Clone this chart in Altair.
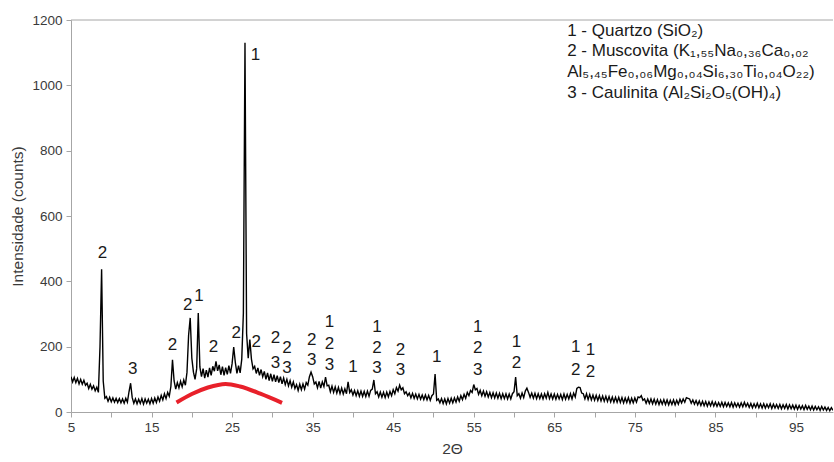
import altair as alt
import pandas as pd

# Diffractogram counts, sampled every 0.2 degrees of 2-theta starting at 5.0
counts = [
    108, 92, 106, 90, 103, 86, 100, 85, 97, 82,
    88, 72, 85, 70, 80, 65, 76, 60, 200, 437,
    95, 42, 47, 33, 45, 31, 43, 30, 42, 29,
    41, 28, 40, 27, 42, 30, 62, 88, 44, 27,
    40, 25, 39, 26, 41, 24, 40, 27, 39, 25,
    41, 27, 43, 29, 46, 33, 51, 37, 56, 41,
    60, 48, 78, 160, 95, 70, 90, 74, 94, 77,
    98, 82, 122, 235, 288, 165, 122, 100, 132, 303,
    138, 108, 133, 104, 128, 107, 135, 112, 140, 125,
    155, 126, 144, 114, 139, 112, 136, 115, 142, 118,
    148, 199, 152, 118, 142, 120, 162, 303, 1130, 240,
    165, 222, 162, 132, 140, 118, 135, 112, 130, 108,
    124, 100, 120, 96, 117, 94, 114, 92, 111, 90,
    108, 86, 104, 84, 100, 80, 96, 76, 92, 72,
    84, 66, 85, 68, 86, 70, 90, 82, 108, 122,
    108, 86, 92, 74, 94, 73, 92, 78, 107, 80,
    82, 62, 79, 60, 77, 58, 75, 56, 73, 55,
    71, 56, 92, 60, 68, 52, 66, 50, 65, 48,
    64, 48, 63, 47, 64, 48, 66, 70, 98, 56,
    62, 46, 61, 45, 60, 44, 61, 46, 63, 50,
    68, 56, 75, 64, 82, 68, 74, 56, 62, 50,
    58, 43, 57, 42, 55, 40, 54, 39, 52, 38,
    52, 37, 51, 36, 50, 55, 116, 36, 40, 28,
    41, 26, 40, 25, 41, 27, 42, 28, 43, 30,
    46, 33, 50, 38, 54, 42, 60, 50, 66, 60,
    84, 68, 72, 54, 66, 50, 64, 48, 62, 46,
    60, 44, 59, 43, 58, 42, 57, 41, 56, 41,
    56, 40, 55, 40, 56, 62, 107, 50, 56, 42,
    58, 44, 64, 73, 60, 45, 58, 42, 57, 41,
    56, 41, 55, 40, 56, 42, 60, 41, 55, 40,
    55, 39, 54, 40, 54, 38, 55, 39, 54, 40,
    56, 40, 58, 46, 72, 76, 75, 58, 56, 40,
    56, 38, 54, 37, 52, 36, 51, 35, 50, 34,
    49, 33, 48, 32, 47, 31, 46, 30, 45, 30,
    45, 29, 44, 28, 43, 29, 44, 27, 42, 28,
    43, 30, 46, 44, 50, 36, 40, 27, 40, 26,
    40, 25, 39, 24, 38, 23, 37, 24, 38, 23,
    37, 22, 36, 23, 37, 22, 36, 24, 39, 28,
    40, 30, 44, 42, 40, 27, 37, 24, 35, 22,
    34, 20, 33, 19, 32, 18, 31, 19, 32, 18,
    30, 17, 29, 17, 30, 16, 29, 17, 28, 16,
    29, 15, 28, 16, 27, 15, 28, 16, 30, 17,
    27, 14, 26, 13, 25, 14, 27, 13, 25, 12,
    25, 12, 24, 13, 25, 11, 24, 12, 23, 11,
    23, 10, 22, 11, 23, 9, 22, 10, 21, 9,
    21, 8, 20, 9, 19, 7, 20, 8, 18, 7,
    18, 6, 17, 7, 16, 5, 17, 6, 15, 5,
    14, 4, 13, 5,
]
two_theta = [round(5 + 0.2 * i, 1) for i in range(len(counts))]

# Amorphous hump outline
hump_theta = [18.1, 20.0, 22.0, 24.2, 26.0, 28.5, 31.2]
hump_counts = [29, 55, 75, 86, 78, 56, 28]

# Phase identification labels (1 = quartz, 2 = muscovite, 3 = kaolinite)
label_theta = [8.9, 12.65, 17.6, 19.5, 20.9, 22.7, 25.5, 27.9, 28.0,
               30.4, 30.4, 31.8, 31.8, 34.9, 34.9, 37.1, 37.1, 37.1,
               40.0, 43.0, 43.0, 43.0, 45.9, 45.9, 50.4,
               55.5, 55.5, 55.5, 60.3, 60.3, 67.65, 67.65, 69.5, 69.5]
label_counts = [487, 132, 205, 328, 355, 199, 242, 1093, 214,
                226, 150, 196, 135, 220, 159, 275, 208, 144,
                138, 260, 196, 135, 190, 129, 168,
                260, 196, 129, 214, 150, 199, 129, 190, 122]
label_text = ["2", "3", "2", "2", "1", "2", "2", "1", "2",
              "2", "3", "2", "3", "2", "3", "1", "2", "3",
              "1", "1", "2", "3", "2", "3", "1",
              "1", "2", "3", "1", "2", "1", "2", "1", "2"]

legend_lines = [
    "1 - Quartzo (SiO\u2082)",
    "2 - Muscovita (K\u2081,\u2085\u2085Na\u2080,\u2083\u2086Ca\u2080,\u2080\u2082",
    "Al\u2085,\u2084\u2085Fe\u2080,\u2080\u2086Mg\u2080,\u2080\u2084Si\u2086,\u2083\u2080Ti\u2080,\u2080\u2084O\u2082\u2082)",
    "3 - Caulinita (Al\u2082Si\u2082O\u2085(OH)\u2084)",
]
legend_counts = [1166, 1104, 1040, 976]

FONT = "Liberation Sans"
x_scale = alt.Scale(domain=[5, 99.6], nice=False, zero=False)
y_scale = alt.Scale(domain=[0, 1200], nice=False)

pattern = pd.DataFrame({"theta": two_theta, "counts": counts})
hump = pd.DataFrame({"theta": hump_theta, "counts": hump_counts})
labels = pd.DataFrame({"theta": label_theta, "counts": label_counts, "txt": label_text})
legend = pd.DataFrame({"theta": [66.6] * len(legend_lines), "counts": legend_counts, "txt": legend_lines})

x_axis = alt.Axis(
    values=list(range(5, 100, 5)),
    labelExpr="datum.value % 10 == 5 ? datum.label : ''",
    labelFlush=False,
    title="2\u0398",
    grid=False,
    tickSize=5,
    labelPadding=3,
    titlePadding=8,
)
y_axis = alt.Axis(
    values=list(range(0, 1201, 100)),
    labelExpr="datum.value % 200 == 0 ? datum.label : ''",
    labelFlush=False,
    format="d",
    title="Intensidade (counts)",
    grid=False,
    tickSize=5,
    labelPadding=4,
    titlePadding=6,
)

line = alt.Chart(pattern).mark_line(color="black", strokeWidth=1.4, clip=True).encode(
    x=alt.X("theta:Q", scale=x_scale, axis=x_axis),
    y=alt.Y("counts:Q", scale=y_scale, axis=y_axis),
)

hump_line = alt.Chart(hump).mark_line(
    color="#e8202a", strokeWidth=4, interpolate="monotone", strokeCap="butt"
).encode(
    x=alt.X("theta:Q", scale=x_scale),
    y=alt.Y("counts:Q", scale=y_scale),
)

top_rule = alt.Chart(pd.DataFrame({"counts": [1200]})).mark_rule(
    color="#a6a6a6", strokeWidth=1
).encode(y=alt.Y("counts:Q", scale=y_scale))

peak_labels = alt.Chart(labels).mark_text(
    font=FONT, fontSize=17, color="#1a1a1a", align="center", baseline="middle"
).encode(
    x=alt.X("theta:Q", scale=x_scale),
    y=alt.Y("counts:Q", scale=y_scale),
    text="txt:N",
)

legend_text = alt.Chart(legend).mark_text(
    font=FONT, fontSize=17, color="#1a1a1a", align="left", baseline="middle"
).encode(
    x=alt.X("theta:Q", scale=x_scale),
    y=alt.Y("counts:Q", scale=y_scale),
    text="txt:N",
)

chart = alt.layer(top_rule, hump_line, line, peak_labels, legend_text).properties(
    width=762,
    height=392,
    padding={"left": 71, "top": 20, "right": 1, "bottom": 50},
    autosize=alt.AutoSizeParams(type="none"),
    background="white",
).configure_view(stroke=None).configure_axis(
    domainColor="#a6a6a6",
    tickColor="#a6a6a6",
    labelFont=FONT,
    labelFontSize=13.5,
    labelColor="#3a3a3a",
    titleFont=FONT,
    titleFontSize=15.5,
    titleFontWeight="normal",
    titleColor="#3a3a3a",
)

chart.save("out.html", embed_options={"renderer": "svg", "actions": False})
